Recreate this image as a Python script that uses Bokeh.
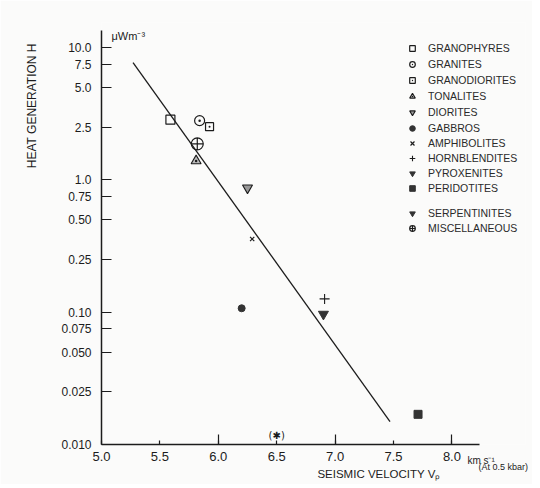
from bokeh.plotting import figure
from bokeh.models import (FixedTicker, Legend, LegendItem, Label, Range1d, LinearAxis, LogAxis)
from bokeh.core.properties import value
from bokeh.embed import file_html
from bokeh.resources import INLINE

# ---- data ----
rock_types = ["GRANOPHYRES", "GRANITES", "GRANODIORITES", "TONALITES", "DIORITES",
              "GABBROS", "AMPHIBOLITES", "HORNBLENDITES", "PYROXENITES", "PERIDOTITES",
              "SERPENTINITES", "MISCELLANEOUS"]
vp_values = [5.59, 5.84, 5.925, 5.81, 6.25, 6.20, 6.29, 6.91, 6.90, 7.71, 6.50, 5.82]
h_values = [2.85, 2.80, 2.52, 1.39, 0.87, 0.107, 0.357, 0.126, 0.0966, 0.0169, 0.0117, 1.87]

fit_vp = [5.27, 7.47]
fit_h = [7.7, 0.0149]

x_ticks = [5.0, 5.5, 6.0, 6.5, 7.0, 7.5, 8.0]
x_long_ticks = [6.0, 7.0, 8.0]
x_tick_labels = ["5.0", "5.5", "6.0", "6.5", "7.0", "7.5", "8.0"]
x_unit_pos, x_unit_label = 8.25, "km s\u207b\u00b9"
x_cond_pos, x_cond_label = 8.44, "(At 0.5 kbar)"
x_title_pos, x_title = 7.376, "SEISMIC VELOCITY V\u209a"
y_ticks = [10.0, 7.5, 5.0, 2.5, 1.0, 0.75, 0.50, 0.25, 0.10, 0.075, 0.050, 0.025, 0.010]
y_tick_labels = ["10.0", "7.5", "5.0", "2.5", "1.0", "0.75", "0.50", "0.25", "0.10",
                 "0.075", "0.050", "0.025", "0.010"]
y_title_pos, y_title = 3.63, "HEAT GENERATION H"
y_unit_label = "\u03bcWm\u207b\u00b3"

FONT = "Liberation Sans"
INK = "#1c1c1c"
BG = "#fbfbfa"

p = figure(width=532, height=484, y_axis_type="log",
           x_range=Range1d(5.0, 8.63), y_range=Range1d(0.01, 15.45),
           output_backend="svg", toolbar_location=None,
           min_border_left=101, min_border_right=7, min_border_top=22, min_border_bottom=40)
p.title.visible = False
p.background_fill_color = BG
p.border_fill_color = BG
p.outline_line_color = None
p.grid.visible = False

# main x axis
xa = p.xaxis[0]
xa.ticker = FixedTicker(ticks=x_ticks, minor_ticks=x_long_ticks)
xa.bounds = (5.0, 8.24)
xa.axis_line_color = INK
xa.axis_line_width = 1.5
xa.major_tick_in = 4
xa.major_tick_out = 0
xa.minor_tick_in = 10
xa.minor_tick_out = 0
xa.major_tick_line_color = INK
xa.minor_tick_line_color = INK
xa.major_tick_line_width = 1.2
xa.minor_tick_line_width = 1.2
xa.major_label_standoff = 7
xa.major_label_text_font = FONT
xa.major_label_text_font_size = "13px"
xa.major_label_text_color = INK
xa.major_label_overrides = dict(zip(x_ticks, x_tick_labels))


def text_axis(ticks, labels, size, standoff, cls=LinearAxis, orientation="horizontal"):
    return cls(ticker=FixedTicker(ticks=ticks, minor_ticks=[]),
               major_label_overrides=dict(zip(ticks, labels)),
               axis_line_color=None, major_tick_line_color=None, minor_tick_line_color=None,
               major_tick_in=0, major_tick_out=0, minor_tick_in=0, minor_tick_out=0,
               major_label_standoff=standoff, major_label_text_font=FONT,
               major_label_text_font_size=size, major_label_text_color=INK,
               major_label_orientation=orientation)

p.add_layout(text_axis([x_unit_pos], [x_unit_label], "10px", -9), "below")
p.add_layout(text_axis([x_cond_pos], [x_cond_label], "9px", -7), "below")
p.add_layout(text_axis([x_title_pos], [x_title], "11.5px", -7), "below")

ya = p.yaxis[0]
ya.ticker = FixedTicker(ticks=y_ticks, minor_ticks=[])
ya.bounds = (0.01, 13.4)
ya.axis_line_color = INK
ya.axis_line_width = 1.5
ya.major_tick_in = 10
ya.major_tick_out = 0
ya.minor_tick_line_color = None
ya.major_tick_line_color = INK
ya.major_tick_line_width = 1.2
ya.major_label_standoff = 10
ya.major_label_text_font = FONT
ya.major_label_text_font_size = "12px"
ya.major_label_text_color = INK
ya.major_label_overrides = dict(zip(y_ticks, y_tick_labels))

p.add_layout(text_axis([y_title_pos], [y_title], "12px", 19, cls=LogAxis,
                       orientation="vertical"), "left")

# fitted line
p.line(fit_vp, fit_h, line_color=INK, line_width=1.3)

styles = {
    "GRANOPHYRES": dict(marker="square", size=9, fill_color=None, line_color=INK, line_width=1.2),
    "GRANITES": dict(marker="circle_dot", size=10, fill_color=None, line_color=INK, line_width=1.2),
    "GRANODIORITES": dict(marker="square_dot", size=8, fill_color=None, line_color=INK, line_width=1.2),
    "TONALITES": dict(marker="triangle_dot", size=10, fill_color="#bbbbbb", line_color=INK, line_width=1.1),
    "DIORITES": dict(marker="inverted_triangle", size=10, fill_color="#999999", line_color=INK, line_width=1.1),
    "GABBROS": dict(marker="circle", size=7, fill_color="#333333", line_color="#333333"),
    "AMPHIBOLITES": dict(marker="x", size=6, fill_color=None, line_color=INK, line_width=1.2),
    "HORNBLENDITES": dict(marker="cross", size=10, fill_color=None, line_color=INK, line_width=1.1),
    "PYROXENITES": dict(marker="inverted_triangle", size=10, fill_color="#333333", line_color="#333333"),
    "PERIDOTITES": dict(marker="square", size=8, fill_color="#333333", line_color="#333333"),
    "SERPENTINITES": dict(marker="inverted_triangle", size=0, fill_color="#333333", line_color="#333333"),
    "MISCELLANEOUS": dict(marker="circle_cross", size=12, fill_color=None, line_color=INK, line_width=1.2),
}

renderers = {}
for name, vx, vy in zip(rock_types, vp_values, h_values):
    renderers[name] = p.scatter(x=[vx], y=[vy], **styles[name])
    if name == "SERPENTINITES":
        p.text(x=[vx], y=[vy], text=["(\u2731)"], text_font=value("DejaVu Sans"),
               text_font_size="10px", text_align="center", text_baseline="middle", text_color=INK)


def make_legend(names, loc, spacing):
    lg = Legend(items=[LegendItem(label=n, renderers=[renderers[n]]) for n in names],
                location=loc, orientation="vertical",
                border_line_color=None, background_fill_alpha=0,
                padding=0, margin=0, spacing=spacing,
                glyph_width=14, glyph_height=14, label_height=14,
                label_standoff=9, label_text_font=FONT, label_text_font_size="10.5px",
                label_text_color="#2a2a2a")
    p.add_layout(lg, "center")

make_legend(rock_types[0:5], (304, 325), 2)
make_legend(rock_types[5:10], (304, 249), 1)
make_legend(rock_types[10:12], (304, 209), 1)

p.add_layout(Label(x=10, y=409, x_units="screen", y_units="screen", text=y_unit_label,
                   text_font=FONT, text_font_size="11px", text_color=INK,
                   text_baseline="middle"))

open("out.html", "w").write(file_html(p, INLINE))
